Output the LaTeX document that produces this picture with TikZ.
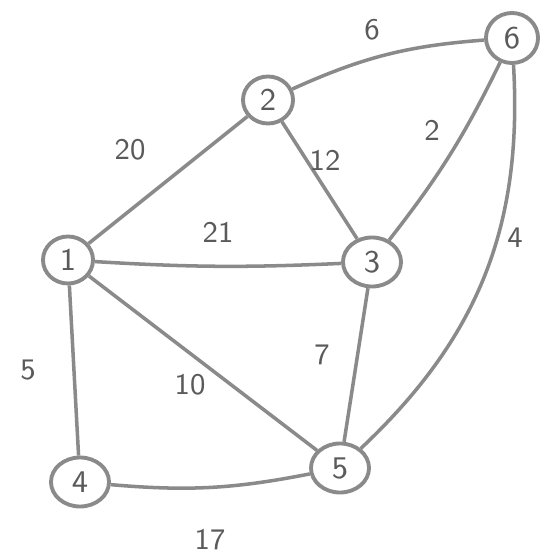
\documentclass[tikz,border=0pt]{standalone}
\usepackage{tikz}
\usetikzlibrary{shapes.geometric}
\definecolor{pencil}{HTML}{8A8A8A}
\definecolor{penciltext}{HTML}{5A5A5A}

\begin{document}
\begin{tikzpicture}[
  x=0.01cm,y=-0.01cm,
  vertex/.style={draw=pencil,line width=1.1pt,ellipse,minimum width=5mm,
    minimum height=4.7mm,inner sep=0pt,text=penciltext,
    font=\sffamily\fontsize{9}{10}\selectfont},
  wide/.style={minimum width=5.8mm,minimum height=4.9mm},
  elabel/.style={text=penciltext,font=\sffamily\fontsize{8.5}{10}\selectfont},
  edge/.style={draw=pencil,line width=1pt}
]
\useasboundingbox (0,0) rectangle (544,555);
% vertices
\node[vertex] (n1) at (68,260) {1};
\node[vertex] (n2) at (268,100) {2};
\node[vertex,wide] (n3) at (372,262) {3};
\node[vertex,wide] (n4) at (80,482) {4};
\node[vertex,wide] (n5) at (340,468) {5};
\node[vertex,minimum width=5.2mm,minimum height=5mm] (n6) at (512,38) {6};
% edges
\draw[edge] (n1) -- (n2);
\draw[edge] (n2) to[bend left=10] (n6);
\draw[edge] (n2) -- (n3);
\draw[edge] (n6) to[bend left=6] (n3);
\draw[edge] (n1) to[bend right=3] (n3);
\draw[edge] (n1) -- (n4);
\draw[edge] (n1) -- (n5);
\draw[edge] (n3) -- (n5);
\draw[edge] (n6) to[bend left=25] (n5);
\draw[edge] (n4) to[bend right=8] (n5);
% weights
\node[elabel] (w12) at (130,150) {20};
\node[elabel] (w26) at (372,30) {6};
\node[elabel] (w23) at (325,160) {12};
\node[elabel] (w63) at (432,130) {2};
\node[elabel] (w65) at (515,238) {4};
\node[elabel] (w13) at (218,232) {21};
\node[elabel] (w35) at (322,355) {7};
\node[elabel] (w15) at (190,385) {10};
\node[elabel] (w14) at (28,370) {5};
\node[elabel] (w45) at (210,540) {17};
\end{tikzpicture}
\end{document}
